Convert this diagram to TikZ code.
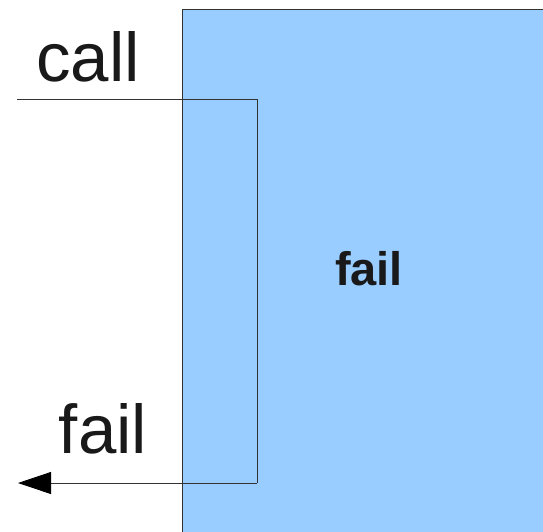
\documentclass[tikz,border=0pt]{standalone}
\usepackage{fontspec}
\setmainfont{Liberation Sans}
\usetikzlibrary{arrows.meta}

\definecolor{callee}{HTML}{99CCFF}

\begin{document}
\begin{tikzpicture}[
  x=1pt, y=-1pt,
  box/.style={draw=black!80, fill=callee, line width=0.8pt, inner sep=0pt, anchor=north west, minimum width=370pt, minimum height=530pt},
  label/.style={inner sep=0pt, anchor=base, text=black!90, font=\fontsize{69}{83}\selectfont},
  inner/.style={inner sep=0pt, anchor=base, text=black!90, font=\fontsize{47}{56}\selectfont\bfseries},
  flow/.style={draw=black!80, line width=0.8pt},
  >={Triangle[length=33pt,width=22pt,color=black]}
]
\useasboundingbox (0,0) rectangle (543,531);
\node[box] (body) at (182,9) {};
\node[inner] (bodytext) at (369,285) {fail};

\coordinate (callin)  at (17,99);
\coordinate (down)    at (257,99);
\coordinate (up)      at (257,483);
\coordinate (failout) at (18,483);

\node[label] (calltext) at (88,81) {call};
\node[label] (failtext) at (103,453) {fail};

\draw[flow] (callin) -- (down) -- (up);
\draw[flow,->] (up) -- (failout);
\end{tikzpicture}
\end{document}
